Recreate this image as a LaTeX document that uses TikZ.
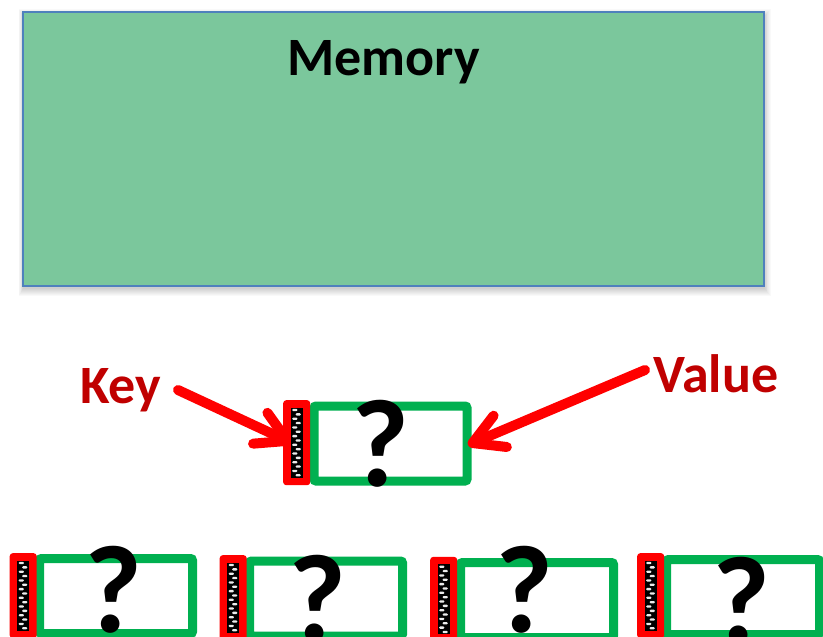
\documentclass[tikz,border=0pt]{standalone}
\usepackage{fontspec}
\setmainfont{Carlito}
\usetikzlibrary{arrows.meta}

\definecolor{memfill}{HTML}{7BC79C}
\definecolor{memline}{HTML}{4F81BD}
\definecolor{slotgreen}{HTML}{00B050}
\definecolor{keyred}{HTML}{FF0000}
\definecolor{labelred}{HTML}{C00000}

\tikzset{
  memory/.style={draw=memline, line width=2pt, fill=memfill, inner sep=0pt,
    minimum width=741pt, minimum height=274pt},
  valbox/.style={draw=slotgreen, line width=9pt, fill=white, rounded corners=2pt,
    inner sep=0pt, minimum width=153pt, minimum height=75pt},
  keybox/.style={fill=keyred, rounded corners=3pt, inner sep=0pt,
    minimum width=27pt, minimum height=85pt},
  lbl/.style={text=labelred, font=\fontsize{54}{60}\selectfont\bfseries, inner sep=0pt},
  title/.style={font=\fontsize{54}{60}\selectfont\bfseries, inner sep=0pt, anchor=base},
  qmark/.style={font=\fontsize{125}{130}\selectfont\bfseries, inner sep=0pt, anchor=base},
  pointer/.style={draw=keyred, line width=10pt, line cap=round,
    -{Straight Barb[length=30pt, width=34pt, line cap=round, line join=round]}},
}

% dark key strip with staggered light dashes: left x, top y, bottom y
\newcommand\zipstrip[3]{%
  \fill[black] ({#1},{#2}) rectangle ({#1+12},{#3});
  \foreach \r in {0,...,15}{
    \pgfmathsetmacro\cx{#1+ifthenelse(mod(\r,2)==0,4.3,7.7)}
    \pgfmathsetmacro\cy{#2+2.5+\r*4.35}
    \fill[white!85!gray, rounded corners=1pt]
      ({\cx-2.6},{\cy-1.15}) rectangle ({\cx+2.6},{\cy+1.15});
  }
}

% one key/value slot: name, red left, red top, green cx, green cy, ? x, ? baseline
\newcommand\slot[7]{%
  \node[valbox] (#1v) at (#4,#5) {};
  \node[keybox, anchor=north west] (#1k) at (#2,#3) {};
  \zipstrip{#2+7.5}{#3+7.5}{#3+77.5}
  \node[qmark] (#1q) at (#6,#7) {?};
}

\begin{document}
\begin{tikzpicture}[x=1pt, y=-1pt]
  \useasboundingbox (0,0) rectangle (823,637);
  \clip (0,0) rectangle (823,637);
  \fill[white] (0,0) rectangle (823,637);

  % soft shadow under the memory block
  \foreach \k in {0,...,7}
    \fill[black, opacity=0.025] ({23-0.6*\k},{16-\k}) rectangle ({765+0.8*\k},{289+\k});
  \node[memory, anchor=north west] (mem) at (22,11) {};
  \node[title] (memlbl) at (383.5,75) {Memory};

  % labels
  \node[lbl, anchor=base west] (keylbl) at (80,403) {Key};
  \node[lbl, anchor=base west] (vallbl) at (653,392) {Value};

  \coordinate (keytail) at (178,390);
  \coordinate (keytip) at (292,443);
  \coordinate (valtail) at (645,370);
  \coordinate (valtip) at (468,445);

  % pointer to the key, passing under the key box
  \draw[pointer] (keytail) -- (keytip);

  % the slot being looked up
  \slot{c}{283}{400}{390.5}{443.5}{380.5}{486}

  % pointer to the value, lying over the green frame
  \draw[pointer] (valtail) -- (valtip);

  % row of stored slots
  \slot{a}{9.5}{553}{116}{596}{113}{632}
  \slot{b}{219.5}{555}{326}{598.5}{317.5}{641}
  \slot{d}{430}{556.7}{537}{600}{524}{632}
  \slot{e}{637}{553}{743}{597}{741.5}{643}
\end{tikzpicture}
\end{document}
